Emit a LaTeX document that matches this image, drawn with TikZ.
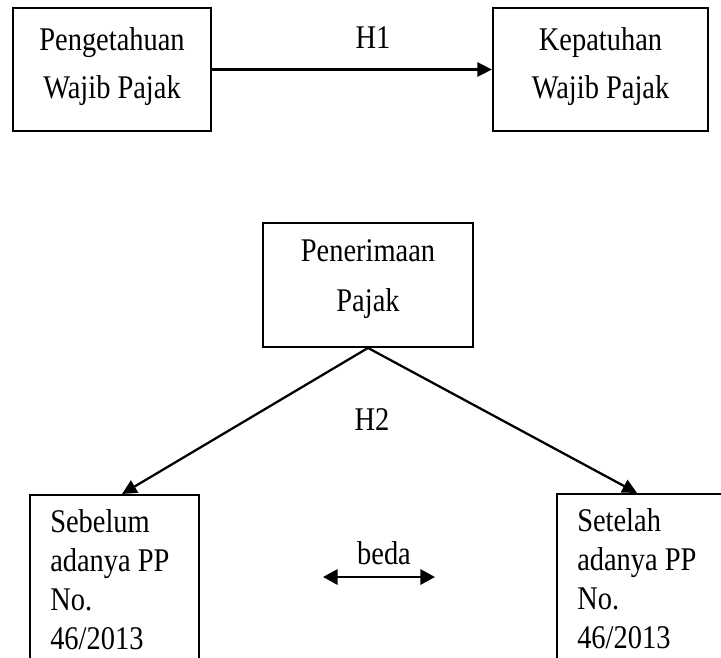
\documentclass[tikz,border=0pt]{standalone}
\usepackage{fontspec}
\setmainfont[FakeStretch=0.86]{Liberation Serif}
\usetikzlibrary{arrows.meta,calc}
\begin{document}
\begin{tikzpicture}[x=0.75pt,y=-0.75pt,
  box/.style={draw, line width=1.4pt, inner sep=0pt},
  lbl/.style={font=\fontsize{24.8}{36}\selectfont, inner sep=0pt, align=center},
  lbllist/.style={font=\fontsize{24.8}{29.25}\selectfont, inner sep=0pt, align=left, anchor=north west},
  conn/.style={line width=1.7pt, -{Triangle[length=11pt,width=10.5pt]}},
  biconn/.style={line width=1.7pt, {Triangle[length=11pt,width=11.5pt]}-{Triangle[length=11pt,width=11.5pt]}},
]
\useasboundingbox (0,0) rectangle (721,657);
\clip (0,0) rectangle (721,657);
% top row
\node[box, minimum width=148.5pt, minimum height=92.25pt] (peng) at (112,69.5) {};
\node[lbl] (pengt) at ($(peng.center)+(0,-3)$) {Pengetahuan\\Wajib Pajak};
\node[box, minimum width=161.25pt, minimum height=92.25pt] (kep) at (600.5,69.5) {};
\node[lbl] (kept) at ($(kep.center)+(0,-3)$) {Kepatuhan\\Wajib Pajak};
\draw[conn] (peng.east) -- (kep.west);
\node[lbl] (h1) at (373,38) {H1};
% middle
\node[box, minimum width=157.5pt, minimum height=93pt] (pen) at (368,285) {};
\node[font=\fontsize{24.8}{37.5}\selectfont, inner sep=0pt, align=center] (pent) at ($(pen.center)+(0,-6)$) {Penerimaan\\Pajak};
\node[lbl] (h2) at (372,420) {H2};
% bottom boxes
\node[box, anchor=north west, minimum width=126.75pt, minimum height=225pt] (seb) at (29,494) {};
\node[lbllist] (sebt) at (50,509.5) {Sebelum\\adanya PP\\No.\\46/2013};
\node[box, anchor=north west, minimum width=150pt, minimum height=225pt] (set) at (556,493) {};
\node[lbllist] (sett) at (577,508.5) {Setelah\\adanya PP\\No.\\46/2013};
\coordinate (sl) at (122,494);
\coordinate (sr) at (637,493);
\draw[conn] (pen.south) -- (sl);
\draw[conn] (pen.south) -- (sr);
% beda
\node[lbl] (beda) at (384,553) {beda};
\coordinate (bl) at (323,577);
\coordinate (br) at (435,577);
\draw[biconn] (bl) -- (br);
\end{tikzpicture}
\end{document}
